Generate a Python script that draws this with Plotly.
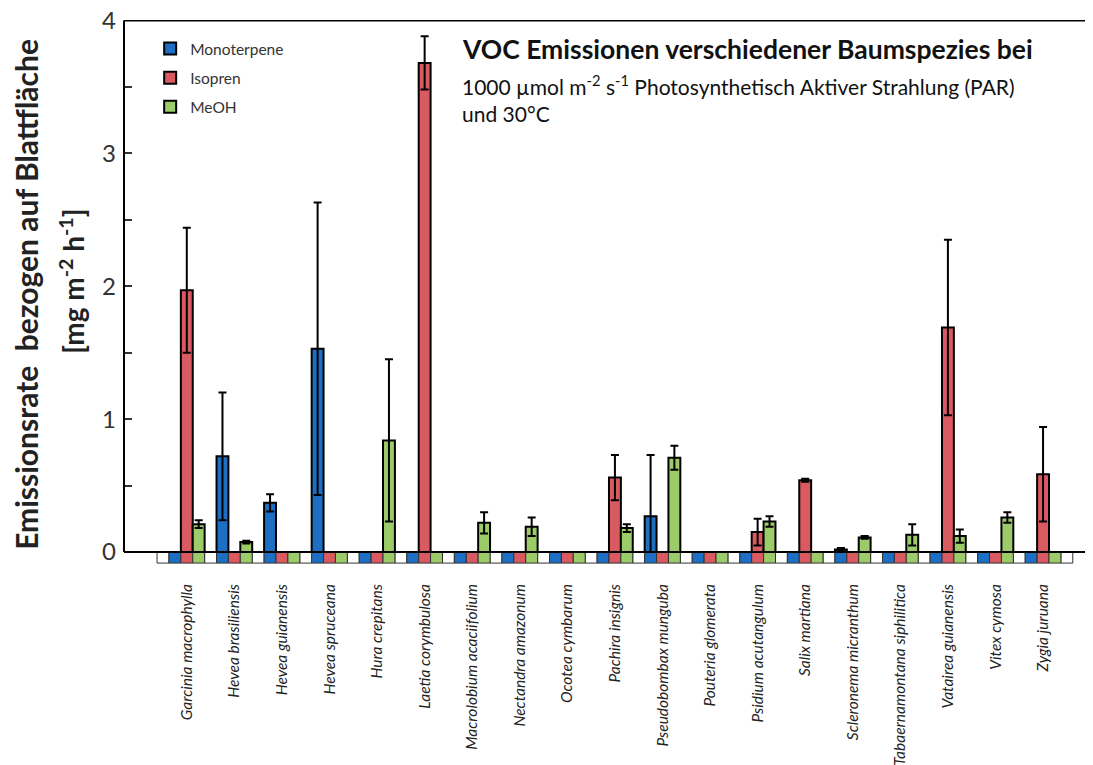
import plotly.graph_objects as go

species = ["Garcinia macrophylla", "Hevea brasiliensis", "Hevea guianensis", "Hevea spruceana",
           "Hura crepitans", "Laetia corymbulosa", "Macrolobium acaciifolium", "Nectandra amazonum",
           "Ocotea cymbarum", "Pachira insignis", "Pseudobombax munguba", "Pouteria glomerata",
           "Psidium acutangulum", "Salix martiana", "Scleronema micranthum",
           "Tabaernamontana siphilitica", "Vatairea guianensis", "Vitex cymosa", "Zygia juruana"]

mono =     [None, 0.72, 0.37, 1.53, None, None, None, None, None, None, 0.27, None, None, None, 0.02, None, None, None, None]
mono_err = [None, 0.48, 0.065, 1.10, None, None, None, None, None, None, 0.46, None, None, None, 0.01, None, None, None, None]
iso =      [1.97, None, None, None, None, 3.68, None, None, None, 0.56, None, None, 0.15, 0.54, None, None, 1.69, None, 0.585]
iso_err =  [0.47, None, None, None, None, 0.20, None, None, None, 0.17, None, None, 0.10, 0.012, None, None, 0.66, None, 0.355]
meoh =     [0.21, 0.075, None, None, 0.84, None, 0.22, 0.19, None, 0.18, 0.71, None, 0.23, None, 0.11, 0.13, 0.12, 0.26, None]
meoh_err = [0.03, 0.01, None, None, 0.61, None, 0.08, 0.07, None, 0.03, 0.09, None, 0.04, None, 0.01, 0.08, 0.05, 0.04, None]

series_names = ["Monoterpene", "Isopren", "MeOH"]
colors = ["#1c6fc3", "#d95a60", "#9ccb6a"]
strip_h = 0.083

idx = list(range(len(species)))
slot = 0.25
shifts = [-slot, 0.0, slot]

fig = go.Figure()

# baseline strip (colored boxes below zero)
gap_x = [i - 0.5 for i in range(len(species) + 1)]
fig.add_trace(go.Bar(x=gap_x, y=[strip_h] * len(gap_x), base=-strip_h, width=slot,
                     marker=dict(color="white", line=dict(color="#333", width=1)),
                     showlegend=False, hoverinfo="skip"))
for s, c in zip(shifts, colors):
    fig.add_trace(go.Bar(x=[i + s for i in idx], y=[strip_h] * len(idx), base=-strip_h, width=slot,
                         marker=dict(color=c, line=dict(color="#333", width=1)),
                         showlegend=False, hoverinfo="skip"))

for name, vals, errs, s, c in zip(series_names, [mono, iso, meoh], [mono_err, iso_err, meoh_err], shifts, colors):
    minus = [None if (v is None or e is None) else min(e, v) for v, e in zip(vals, errs)]
    fig.add_trace(go.Bar(
        name=name, x=[i + s for i in idx], y=vals, width=slot, legendgroup=name,
        marker=dict(color=c, line=dict(color="black", width=2)),
        error_y=dict(type="data", symmetric=False, array=errs, arrayminus=minus,
                     color="black", thickness=2, width=4),
    ))

fig.update_layout(
    width=1085, height=757,
    barmode="overlay",
    plot_bgcolor="white", paper_bgcolor="white",
    margin=dict(l=116, r=0, t=12, b=201, autoexpand=False),
    font=dict(family="Lato", color="#222"),
    legend=dict(x=0.027, y=0.978, xanchor="left", yanchor="top", bgcolor="rgba(0,0,0,0)",
                font=dict(size=15.5, color="#333"), tracegroupgap=6, itemwidth=30),
    xaxis=dict(range=[-1.32, 19.05], tickmode="array", tickvals=idx, ticktext=species,
               tickangle=-90, tickfont=dict(size=15.5, style="italic", color="#222"),
               showline=False, showgrid=False, zeroline=False, ticks="", ticklabelstandoff=16,
               automargin=False),
    yaxis=dict(range=[-0.09, 4.003], tickvals=[0, 1, 2, 3, 4], ticks="inside", ticklen=8, tickwidth=1.5,
               tickcolor="#333", minor=dict(tickvals=[0.5, 1.5, 2.5, 3.5], ticks="inside", ticklen=8,
                                            tickwidth=1.5, tickcolor="#333"),
               tickfont=dict(size=24, color="#333"), showline=False, showgrid=False, zeroline=False,
               ticklabelstandoff=7, ticklabeloverflow="allow", automargin=False),
    shapes=[
        dict(type="line", xref="paper", yref="y", x0=0, x1=0, y0=0, y1=4, line=dict(color="black", width=2)),
        dict(type="line", xref="paper", yref="y", x0=0, x1=1, y0=0, y1=0, line=dict(color="black", width=2)),
        dict(type="line", xref="paper", yref="y", x0=0, x1=1, y0=4, y1=4, line=dict(color="black", width=2)),
    ],
    annotations=[
        dict(xref="paper", yref="paper", x=-0.101, y=0.495, xanchor="center", yanchor="middle",
             text="<b>Emissionsrate  bezogen auf Blattfläche</b>", textangle=-90, showarrow=False,
             font=dict(size=30, color="#222")),
        dict(xref="paper", yref="paper", x=-0.054, y=0.52, xanchor="center", yanchor="middle",
             text="<b>[mg m<sup>-2</sup> h<sup>-1</sup>]</b>", textangle=-90, showarrow=False,
             font=dict(size=28, color="#222")),
        dict(xref="paper", yref="paper", x=0.347, y=0.947, xanchor="left", yanchor="middle",
             text="<b>VOC Emissionen verschiedener Baumspezies bei</b>", showarrow=False,
             font=dict(size=26.5, color="#111")),
        dict(xref="paper", yref="paper", x=0.347, y=0.880, xanchor="left", yanchor="middle",
             text="1000 µmol m<sup>-2</sup> s<sup>-1</sup> Photosynthetisch Aktiver Strahlung (PAR)",
             showarrow=False, font=dict(size=21, color="#111")),
        dict(xref="paper", yref="paper", x=0.347, y=0.829, xanchor="left", yanchor="middle",
             text="und 30°C", showarrow=False, font=dict(size=21, color="#111")),
    ],
)

fig.write_html("out.html")
